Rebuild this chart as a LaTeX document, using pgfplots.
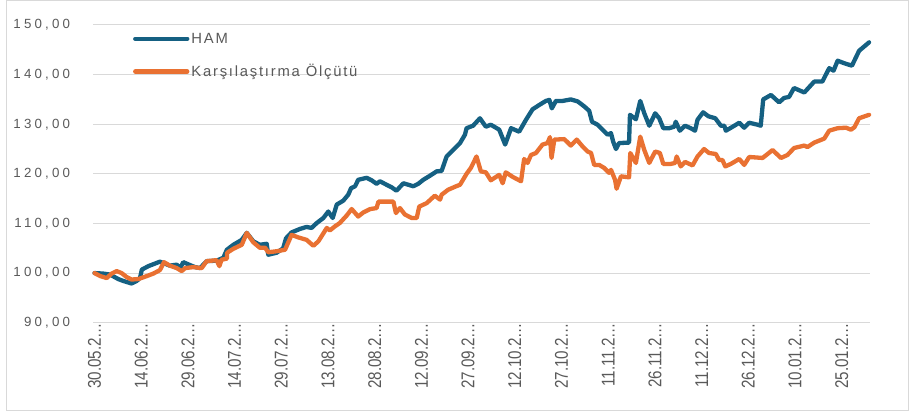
\documentclass[border=0pt]{standalone}
\usepackage{fontspec}
\setmainfont{Liberation Sans}
\newfontfamily\ytickfont{Liberation Sans}[LetterSpace=24]
\newfontfamily\legfont{Liberation Sans}[LetterSpace=12]
\usepackage{graphicx}
\usepackage{pgfplots}
\pgfplotsset{compat=1.18}
\definecolor{hamblue}{HTML}{156082}
\definecolor{benchorange}{HTML}{E97132}
\definecolor{gridgray}{HTML}{D9D9D9}
\definecolor{labelgray}{HTML}{595959}
\newcommand\xl[1]{\scalebox{0.82}[1]{#1}}

% day index from 30.05, index value
\pgfplotstableread{
day val
0 100.0
2.8 99.9
5 99.7
7.6 98.8
9.3 98.4
11.9 97.9
13.5 98.4
14.6 99.0
15.2 100.7
17.3 101.4
21 102.3
22.6 101.9
24.2 101.5
26.4 101.7
27.5 101.0
28.5 102.2
30.7 101.6
32.3 101.2
33.9 101.0
36 102.4
39.2 102.5
41.4 103.1
42.5 104.7
44.6 105.7
47.3 106.7
48.9 108.1
51 106.4
53.1 105.7
55.3 105.9
55.8 103.7
58.5 104.1
60.6 105.0
61.5 107.0
63.3 108.2
66 108.9
68.1 109.3
69.7 109.1
71.4 110.1
73.5 111.1
75.1 112.4
76.5 111.1
77.8 113.8
79.9 114.6
81.5 115.8
82.4 117.1
83.7 117.5
84.7 118.8
87.4 119.2
89 118.7
90.6 118.0
91.7 118.5
93.8 117.8
95.4 117.3
97 116.6
99.2 118.1
100.8 117.8
102.4 117.5
104 118.0
105.6 118.8
107.7 119.6
109.9 120.5
111.5 120.6
113.1 123.5
115.2 124.8
117.4 126.2
119 127.9
119.5 129.2
121.6 129.7
123.8 131.2
125.7 129.5
127.3 129.9
130 128.9
131.9 125.9
133.8 129.2
136.4 128.5
138.6 130.9
140.7 133.0
142.9 133.9
145 134.7
146.1 134.9
146.9 133.2
148.2 134.7
150.4 134.7
153 135.0
155.2 134.6
157.3 133.6
158.9 132.7
159.8 130.5
161.6 129.9
163.2 128.9
164.8 127.9
165.9 128.2
166.6 126.5
167.5 125.0
168.5 126.2
171.7 126.3
172 131.9
173.9 131.0
175.3 134.7
176.6 132.2
178.2 129.7
180.1 132.2
181.4 131.2
182.7 129.2
184.6 129.2
186.2 129.5
186.7 130.5
188 128.7
189.7 129.7
191.5 129.2
192.9 128.7
193.7 130.9
195.5 132.4
197.2 131.6
199.4 131.2
201.2 129.7
202.3 129.7
202.8 128.7
205 129.5
207.1 130.3
208.7 129.3
210.3 130.3
213 129.9
214 129.7
214.8 135.0
217.3 135.9
219.9 134.4
221.5 135.3
223.1 135.5
224.7 137.3
228 136.4
231.2 138.6
233.8 138.6
236 141.3
237.4 140.8
238.7 142.8
240.8 142.3
243.3 141.8
245.6 144.8
248.8 146.5
}\hamdata

\pgfplotstableread{
day val
0 100.0
1.8 99.4
3.9 99.0
5.5 99.9
7.1 100.4
8.7 100.0
10.3 99.2
11.9 98.7
14.1 98.8
16.8 99.4
18.9 99.9
21 100.6
22.3 102.2
24.2 101.5
26.4 101.0
28 100.4
29.1 101.0
31.7 101.2
34.4 101.0
36 102.4
39.2 102.6
40.1 101.4
40.8 102.7
42.5 102.9
42.6 104.1
44.6 104.9
47.3 105.7
48.9 108.1
51 106.2
53.1 105.1
54.8 105.1
55.8 104.2
58.5 104.4
61.2 104.7
63.3 107.7
65.4 107.2
68.1 106.7
70.3 105.5
71.9 106.4
74.6 109.1
75.6 108.6
77.2 109.4
78.8 110.1
81 111.6
82.6 112.9
84.7 111.4
86.3 112.2
88.5 112.9
90.6 113.1
91.2 114.4
93.8 114.4
96 114.4
96.8 112.1
98.1 113.1
99.7 111.8
101.9 111.1
103.5 111.1
104.3 113.4
106.7 114.1
109.3 115.6
111 114.8
111.5 115.8
113.6 116.8
115.8 117.4
117.4 117.8
119.5 120.0
120.9 121.2
122.7 123.5
124.1 120.5
125.7 120.3
127.3 118.7
130 119.8
131.1 118.1
132.1 120.3
134.3 119.4
137 118.5
138 123.0
139.1 122.2
140.2 123.8
141.8 124.2
143.9 125.9
145.5 126.2
146.3 127.4
146.8 123.2
147.7 126.9
150.9 127.0
153 125.7
154.9 126.9
156.8 125.5
158.4 124.5
159.5 124.2
160.5 121.8
162.1 121.8
163.7 121.2
165.3 120.2
165.9 120.8
167.2 118.8
167.7 117.0
169.1 119.5
171.7 119.3
172.1 124.2
173.9 122.2
175.3 127.5
176.6 124.8
178.2 122.2
180.1 124.5
181.6 124.2
182.7 122.0
185.1 122.0
186.5 122.2
187 123.5
188.3 121.5
189.7 122.4
192.1 121.7
193.7 123.5
195.8 125.0
197.4 124.2
199.6 124.0
200.6 122.8
201.7 122.8
202.6 121.5
204.4 122.0
207.1 123.0
208.7 121.8
210.3 123.4
214.6 123.2
217.8 124.8
220.5 123.2
222.6 123.8
224.7 125.2
228 125.7
229 125.4
231.2 126.3
234.4 127.1
236 128.7
238.7 129.2
241.4 129.3
243 128.9
244.1 129.4
245.6 131.2
248.8 131.9
}\olcutdata

\begin{document}
\begin{tikzpicture}
\begin{axis}[
  name=main,
  at={(0,0)}, anchor=south west,
  scale only axis,
  width=777pt, height=297.7pt,
  xmin=-0.4, xmax=249.2,
  ymin=90, ymax=150,
  clip=false,
  ytick={90,100,...,150},
  yticklabels={{90,00},{100,00},{110,00},{120,00},{130,00},{140,00},{150,00}},
  xtick={0,15,...,240},
  xticklabels={\xl{30.05.2…},\xl{14.06.2…},\xl{29.06.2…},\xl{14.07.2…},\xl{29.07.2…},\xl{13.08.2…},\xl{28.08.2…},\xl{12.09.2…},\xl{27.09.2…},\xl{12.10.2…},\xl{27.10.2…},\xl{11.11.2…},\xl{26.11.2…},\xl{11.12.2…},\xl{26.12.2…},\xl{10.01.2…},\xl{25.01.2…}},
  axis line style={draw=none},
  major tick length=0pt,
  ymajorgrids,
  grid style={gridgray, line width=1pt},
  y tick label style={font=\ytickfont\fontsize{13.3}{15}\selectfont, text=labelgray, anchor=east, inner sep=0pt, xshift=-23pt},
  x tick label style={font=\fontsize{18.5}{20}\selectfont, text=labelgray, rotate=90, anchor=east, inner sep=0pt},
  legend style={at={(0.051,0.981)}, anchor=north west, draw=none, fill=none, inner sep=0pt,
    row sep=16pt, font=\legfont\fontsize{14.8}{17}\selectfont, text=labelgray,
    cells={anchor=west}, /tikz/every even column/.append style={column sep=8pt}},
  legend image code/.code={\draw[#1] (0pt,0pt) -- (52pt,0pt);},
  every axis plot/.append style={line width=4.3pt, line cap=round, line join=round},
]
\addplot[hamblue] table[x=day, y=val] {\hamdata};
\addlegendentry{HAM}
\addplot[benchorange] table[x=day, y=val] {\olcutdata};
\addlegendentry{Karşılaştırma Ölçütü}
\end{axis}
\draw[gridgray, line width=1pt] ([xshift=-86.6pt,yshift=-88pt]main.south west) rectangle ([xshift=38pt,yshift=24.3pt]main.north east);
\path ([xshift=-93.3pt,yshift=-93.3pt]main.south west) rectangle ([xshift=45.7pt,yshift=25pt]main.north east);
\end{tikzpicture}
\end{document}
